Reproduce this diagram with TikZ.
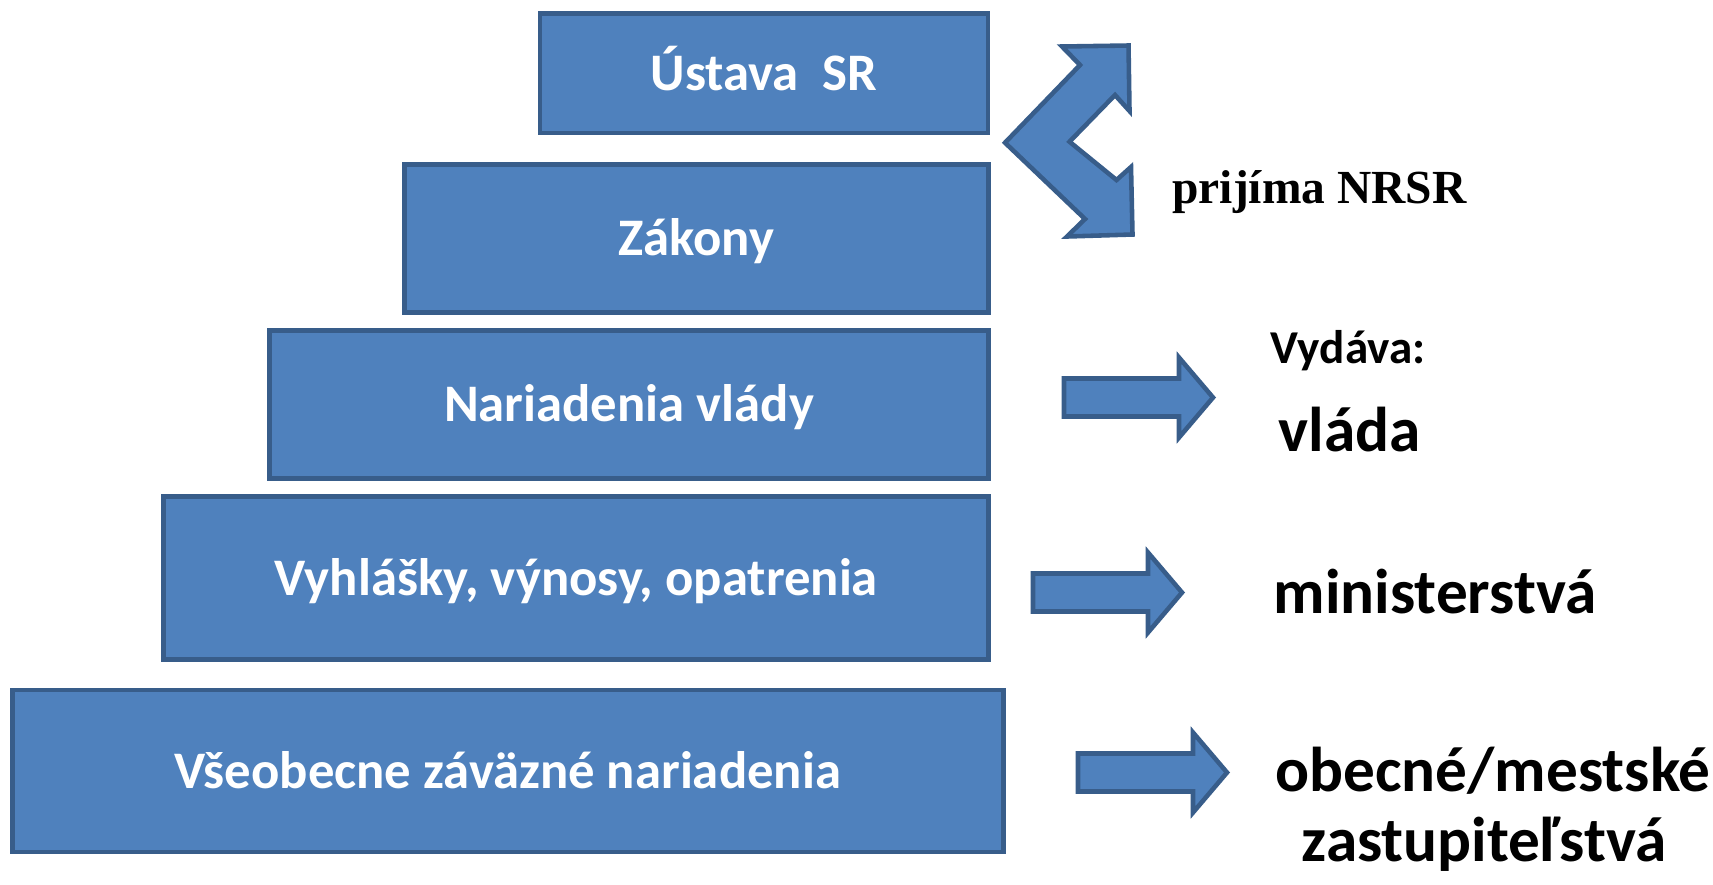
\documentclass[tikz,border=0pt]{standalone}
\usepackage{fontspec}
\setmainfont{Carlito}
\newfontfamily\timesfont{Liberation Serif}
\usepackage{tikz}
\usetikzlibrary{positioning}
\definecolor{boxfill}{HTML}{4F81BD}
\definecolor{boxline}{HTML}{385D8A}

\begin{document}
\begin{tikzpicture}[x=0.01cm,y=-0.01cm,
  level/.style={draw=boxline,fill=boxfill,line width=1.3pt,text=white,inner sep=0pt,
    font=\bfseries\fontsize{15}{18}\selectfont,text height=9.8pt,text depth=0pt},
  bigarrow/.style={draw=boxline,fill=boxfill,line width=1.3pt,line join=miter},
  note/.style={inner sep=0pt,anchor=base west,font=\bfseries\fontsize{13.4}{16}\selectfont},
  bignote/.style={note,font=\bfseries\fontsize{18}{20}\selectfont}]

    \useasboundingbox (0,0) rectangle (1713,884);

    \node[level,minimum width=4.48cm,minimum height=1.195cm](ustava) at (764,73.3){Ústava\ \ SR};
    \node[level,minimum width=5.84cm,minimum height=1.48cm](zakony) at (696.5,238.5){Zákony};
    \node[level,minimum width=7.19cm,minimum height=1.48cm](nariadenia) at (629,404.5){Nariadenia vlády};
    \node[level,minimum width=8.25cm,minimum height=1.63cm](vyhlasky) at (576,578){Vyhlášky, výnosy, opatrenia};
    \node[level,minimum width=9.90cm,minimum height=1.62cm](vzn) at (508,771){Všeobecne záväzné nariadenia};

    \draw[bigarrow] (1005,142.7) -- (1080,65) -- (1062,46.5) -- (1128.5,45.5) -- (1129.5,111)
        -- (1115,95) -- (1069.5,141.7) -- (1116.5,180) -- (1131,167) -- (1132.5,234.5)
        -- (1067,236.5) -- (1085,219) -- cycle;

    \foreach \x/\y in {1064/397.5,1033/592.5,1078/772.5}
        \draw[bigarrow] (\x,\y-19) -- (\x+115,\y-19) -- (\x+115,\y-40) -- (\x+149,\y)
            -- (\x+115,\y+40) -- (\x+115,\y+19) -- (\x,\y+19) -- cycle;

    \node[note,font=\timesfont\bfseries\fontsize{13.5}{16}\selectfont](prijima) at (1171.7,203.3){prijíma NRSR};
    \node[note](vydava) at (1270,363.3){Vydáva:};
    \node[bignote](vlada) at (1278,451.7){vláda};
    \node[bignote](ministerstva) at (1273,613.3){ministerstvá};
    \node[bignote,anchor=base](obecne) at (1493,791.7){obecné/mestské};
    \node[bignote,anchor=base](zastupitelstva) at (1484,861.7){zastupiteľstvá};
\end{tikzpicture}
\end{document}
